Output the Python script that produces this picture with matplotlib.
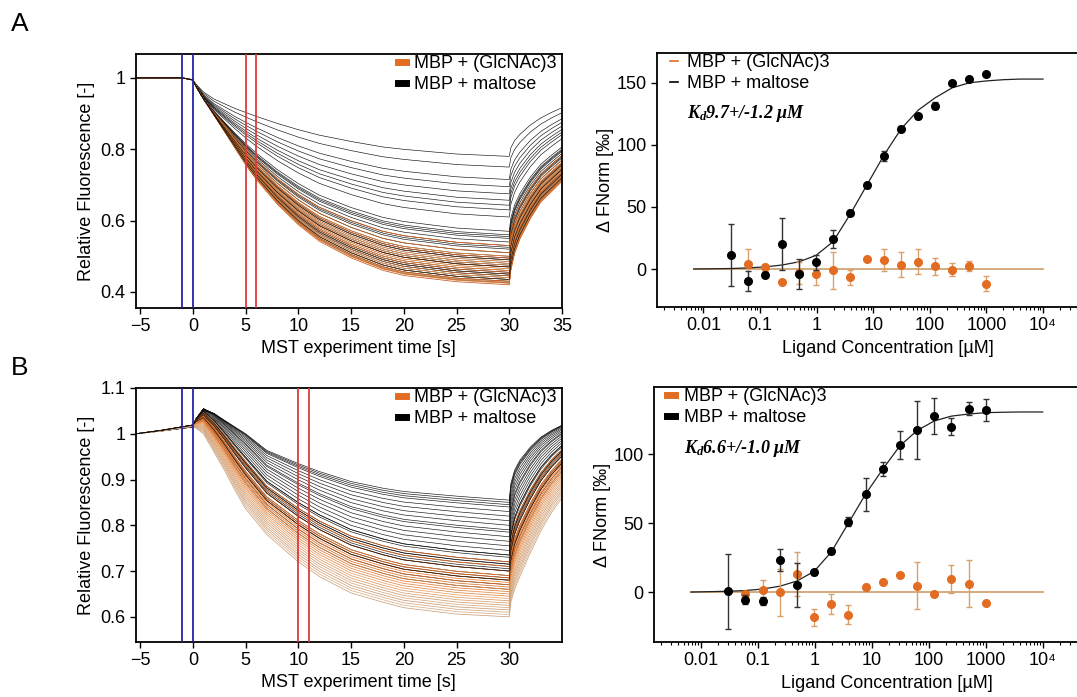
import numpy as np
import matplotlib.pyplot as plt
from matplotlib.lines import Line2D
from matplotlib.ticker import FixedLocator, LogLocator, NullFormatter

plt.rcParams['font.family'] = ['Liberation Sans', 'DejaVu Sans']
plt.rcParams['mathtext.fontset'] = 'custom'
plt.rcParams['mathtext.rm'] = 'Liberation Serif:bold:italic'
plt.rcParams['mathtext.it'] = 'Liberation Serif:bold:italic'
plt.rcParams['mathtext.bf'] = 'Liberation Serif:bold:italic'

# ---- MST traces: time profiles (slow = shallow trace, fast = deep trace)
tA = [-5.4, -1, 0, 0.3, 1, 2, 3, 4, 5, 6, 8, 10, 12, 15, 18, 20, 25, 30, 30.15, 30.5, 31, 32, 33, 34, 35]
pA_slow = [0, 0, 0.02, 0.08, 0.18, 0.27, 0.33, 0.39, 0.44, 0.49, 0.58, 0.66, 0.73, 0.81, 0.88, 0.91, 0.97, 1.0,
           0.89, 0.8, 0.72, 0.6, 0.51, 0.44, 0.38]
pA_fast = [0, 0, 0.01, 0.04, 0.1, 0.18, 0.26, 0.34, 0.42, 0.49, 0.61, 0.71, 0.79, 0.87, 0.93, 0.955, 0.985, 1.0,
           0.93, 0.85, 0.78, 0.68, 0.6, 0.55, 0.5]
# depth of each trace = 1 - fluorescence at 30 s
depthA_maltose = [0.22, 0.25, 0.285, 0.305, 0.325, 0.343, 0.357, 0.37, 0.39, 0.43, 0.44, 0.445, 0.45, 0.46,
                  0.47, 0.475, 0.48, 0.49, 0.50, 0.505, 0.51, 0.52, 0.525, 0.53, 0.54, 0.545, 0.55, 0.555,
                  0.56, 0.565, 0.57, 0.575]
depthA_glc = [0.47, 0.49, 0.50, 0.505, 0.51, 0.515, 0.52, 0.525, 0.53, 0.535, 0.54, 0.545, 0.55, 0.555,
              0.56, 0.565, 0.57, 0.573, 0.576, 0.58]

tB = [-5.4, -3, 0, 0.3, 1, 2, 3, 4, 5, 7, 10, 12, 15, 18, 20, 25, 30, 30.15, 30.5, 31, 32, 33, 34, 35]
pB_slow = [0, -0.04, -0.1, -0.2, -0.35, -0.3, -0.2, -0.1, 0.0, 0.25, 0.45, 0.57, 0.72, 0.82, 0.87, 0.94, 1.0,
           0.75, 0.55, 0.4, 0.2, 0.05, -0.05, -0.13]
pB_fast = [0, -0.015, -0.04, -0.03, 0.0, 0.1, 0.2, 0.31, 0.41, 0.55, 0.70, 0.78, 0.87, 0.92, 0.95, 0.985, 1.0,
           0.92, 0.85, 0.78, 0.65, 0.53, 0.43, 0.35]
depthB_maltose = [0.145, 0.15, 0.155, 0.16, 0.17, 0.18, 0.19, 0.2, 0.21, 0.215, 0.225, 0.235, 0.245, 0.255,
                  0.265, 0.27, 0.28, 0.285, 0.29, 0.295, 0.3, 0.31, 0.315, 0.32, 0.33, 0.34]
depthB_glc = [0.28, 0.29, 0.3, 0.31, 0.315, 0.32, 0.325, 0.33, 0.335, 0.34, 0.345, 0.35, 0.355, 0.36, 0.365,
              0.37, 0.375, 0.38, 0.385, 0.39, 0.395, 0.4]

# ---- dose response
conc = [0.0305, 0.061, 0.122, 0.244, 0.488, 0.977, 1.95, 3.91, 7.81, 15.6, 31.25, 62.5, 125, 250, 500, 1000]
conc_glc = conc[1:]

A_mal = [11.5, -9.9, -4.6, 20.1, -4.0, 5.6, 24.1, 45.5, 67.5, 91.1, 112.8, 123.2, 131.5, 150, 152.7, 157]
A_mal_err = [25, 8, 2, 21, 12, 6, 7, 2, 2, 4, 2, 2, 3, 1, 1, 1]
A_glc = [4.0, 1.3, -10.7, -3.0, -3.8, -1.0, -6.7, 7.8, 7.5, 3.5, 5.9, 2.1, -0.5, 2.1, -11.8]
A_glc_err = [12, 3, 1, 9, 9, 15, 6, 1, 9, 10, 10, 7, 5, 4, 6]

B_mal = [0.5, -5.5, -6.3, 22.9, 5.3, 14.2, 29.9, 51.1, 70.8, 88.9, 106.5, 117.3, 127.5, 119.8, 133, 131.8]
B_mal_err = [27, 3, 3, 8, 16, 2, 2, 3, 12, 5, 10, 21, 13, 6, 5, 8]
B_glc = [-1.5, 1.7, 0, 13, -18.3, -8.7, -16.4, 3.6, 7.2, 12.5, 4.6, -1.4, 9.4, 6, -8]
B_glc_err = [2, 7, 17, 16, 6, 7, 7, 2, 1, 1, 17, 1, 10, 17, 0]

fit_x = [0.0067, 0.0153, 0.0305, 0.061, 0.122, 0.244, 0.488, 0.977, 1.95, 3.91, 7.81, 15.6, 31.25, 62.5,
         125, 250, 500, 1000, 2000, 4000, 10000]
fitA_mal = [0, 0.2, 0.4, 0.9, 1.7, 3.2, 5.8, 11, 22, 44, 68, 92, 113, 128, 138, 146, 150, 151.5, 152.5, 153, 153]
fitB_mal = [0, 0.3, 0.6, 1.1, 2.2, 4.2, 8, 15, 29, 50, 71, 89, 106, 117, 124, 127.5, 129, 130, 130.3, 130.5, 130.5]
fit_glc = [0] * len(fit_x)

lab_glc = 'MBP + (GlcNAc)3'
lab_mal = 'MBP + maltose'
kdA = '$K_d$9.7+/-1.2 μM'
kdB = '$K_d$6.6+/-1.0 μM'

ORANGE = '#e26c22'
ORANGES_A = ['#e0661a', '#d2691e', '#f08c3c', '#c85a1e', '#e8a36a', '#b8622a', '#f29a55', '#d98a4a']
# B: vivid for shallow ones, paler tan for the deepest traces
ORANGES_B = ['#e0661a', '#e86a18', '#d86020', '#f07a28', '#e0661a', '#d2691e', '#ee7d30', '#e06a20',
             '#d8742c', '#f08c3c', '#e37a35', '#e8894a', '#d98a4a', '#e8a36a', '#dc9a62', '#d9a070',
             '#cf9a6c', '#d8aa80', '#c99870', '#d4a680', '#d8b08c', '#cca27c']


def make_traces(t, p_slow, p_fast, depths, dmin, dmax):
    p_slow = np.array(p_slow)
    p_fast = np.array(p_fast)
    out = []
    for d in depths:
        w = (d - dmin) / (dmax - dmin)
        out.append(1 - d * ((1 - w) * p_slow + w * p_fast))
    return out


def style_axes(ax):
    for s in ax.spines.values():
        s.set_linewidth(1.3)
    ax.tick_params(direction='out', length=4, width=1, labelsize=13)
    ax.tick_params(which='minor', direction='out', length=2, width=0.8)


def mst_panel(ax, t, p_slow, p_fast, d_mal, d_glc, colors, red, ylim, yticks, ylabels, xticks):
    dmin = min(d_mal + d_glc)
    dmax = max(d_mal + d_glc)
    mal = make_traces(t, p_slow, p_fast, d_mal, dmin, dmax)
    glc = make_traces(t, p_slow, p_fast, d_glc, dmin, dmax)
    for tr in mal:
        ax.plot(t, tr, color='#111111', lw=0.45, zorder=2)
    for i, tr in enumerate(glc):
        ax.plot(t, tr, color=colors[i % len(colors)], lw=0.55, zorder=2)
    # a few maltose traces back on top so the bundles look mixed
    for tr in mal[-12::3]:
        ax.plot(t, tr, color='#111111', lw=0.45, zorder=2)
    for x in (-1, 0):
        ax.axvline(x, color='#2323a8', lw=1.3, zorder=3)
    for x in red:
        ax.axvline(x, color='#dd3a3a', lw=1.3, zorder=3)
    ax.set_xlim(-5.4, 35)
    ax.set_ylim(*ylim)
    ax.set_xticks(xticks)
    ax.set_yticks(yticks)
    ax.set_yticklabels(ylabels)
    ax.set_xlabel('MST experiment time [s]', fontsize=13)
    ax.xaxis.set_label_coords(0.523, -0.125)
    ax.set_ylabel('Relative Fluorescence [-]', fontsize=13, labelpad=4)
    handles = [Line2D([], [], color=ORANGE, lw=5), Line2D([], [], color='black', lw=5)]
    ax.legend(handles, [lab_glc, lab_mal], loc='upper left', bbox_to_anchor=(0.615, 0.995),
              frameon=False, fontsize=13, handlelength=0.45, handletextpad=0.45,
              labelspacing=0.2, borderpad=0, borderaxespad=0)
    style_axes(ax)


def dose_panel(ax, mal, mal_err, glc, glc_err, fit_mal, ylim, yticks, kd, thick_handles):
    ax.plot(fit_x, fit_glc, color='#c8945a', lw=1.1, zorder=1)
    ax.plot(fit_x, fit_mal, color='#222222', lw=0.9, zorder=2)
    ax.errorbar(conc_glc, glc, yerr=glc_err, fmt='o', ms=5.5, color=ORANGE, ecolor='#d9a06a',
                elinewidth=1, capsize=2.2, capthick=1, zorder=3)
    ax.errorbar(conc, mal, yerr=mal_err, fmt='o', ms=5.5, color='black', ecolor='#333333',
                elinewidth=1, capsize=2.2, capthick=1, zorder=4)
    ax.set_xscale('log')
    ax.set_xlim(10 ** -2.82, 10 ** 4.83)
    ax.set_ylim(*ylim)
    ax.xaxis.set_major_locator(FixedLocator([0.01, 0.1, 1, 10, 100, 1000, 10000]))
    ax.set_xticklabels(['0.01', '0.1', '1', '10', '100', '1000', '10⁴'])
    ax.xaxis.set_minor_locator(LogLocator(base=10, subs=np.arange(2, 10)))
    ax.xaxis.set_minor_formatter(NullFormatter())
    ax.set_yticks(yticks)
    ax.set_xlabel('Ligand Concentration [µM]', fontsize=13)
    ax.xaxis.set_label_coords(0.533, -0.13)
    ax.set_ylabel('Δ FNorm [‰]', fontsize=13, labelpad=2)
    lw = 5 if thick_handles else 1.2
    handles = [Line2D([], [], color=ORANGE, lw=lw), Line2D([], [], color='black', lw=lw)]
    ax.legend(handles, [lab_glc, lab_mal], loc='upper left', bbox_to_anchor=(0.03, 0.995),
              frameon=False, fontsize=13, handlelength=0.45, handletextpad=0.5,
              labelspacing=0.2, borderpad=0, borderaxespad=0)
    ax.text(0.069, 0.76, kd, transform=ax.transAxes, fontsize=13, family='Liberation Serif',
            weight='bold', style='italic', va='center')
    style_axes(ax)


fig = plt.figure(figsize=(10.77, 6.97), dpi=100)
W, H = 1077.0, 697.0


def place(l, t, r, b):
    return fig.add_axes([l / W, 1 - b / H, (r - l) / W, (b - t) / H])


axA1 = place(136, 54, 562, 308)
axA2 = place(657, 53, 1090, 307)
axB1 = place(136, 388, 562, 642)
axB2 = place(654, 387, 1090, 642)

mst_panel(axA1, tA, pA_slow, pA_fast, depthA_maltose, depthA_glc, ORANGES_A, (5, 6), (0.355, 1.067),
          [0.4, 0.6, 0.8, 1.0], ['0.4', '0.6', '0.8', '1'], [-5, 0, 5, 10, 15, 20, 25, 30, 35])
mst_panel(axB1, tB, pB_slow, pB_fast, depthB_maltose, depthB_glc, ORANGES_B, (10, 11), (0.545, 1.1),
          [0.6, 0.7, 0.8, 0.9, 1.0, 1.1], ['0.6', '0.7', '0.8', '0.9', '1', '1.1'],
          [-5, 0, 5, 10, 15, 20, 25, 30])

dose_panel(axA2, A_mal, A_mal_err, A_glc, A_glc_err, fitA_mal, (-30.6, 174), [0, 50, 100, 150], kdA, False)
dose_panel(axB2, B_mal, B_mal_err, B_glc, B_glc_err, fitB_mal, (-36.2, 148.6), [0, 50, 100], kdB, True)

fig.text(11 / W, 1 - 24 / H, 'A', fontsize=19, va='center', ha='left')
fig.text(11 / W, 1 - 368 / H, 'B', fontsize=19, va='center', ha='left')

fig.savefig('out.png', dpi=100)
